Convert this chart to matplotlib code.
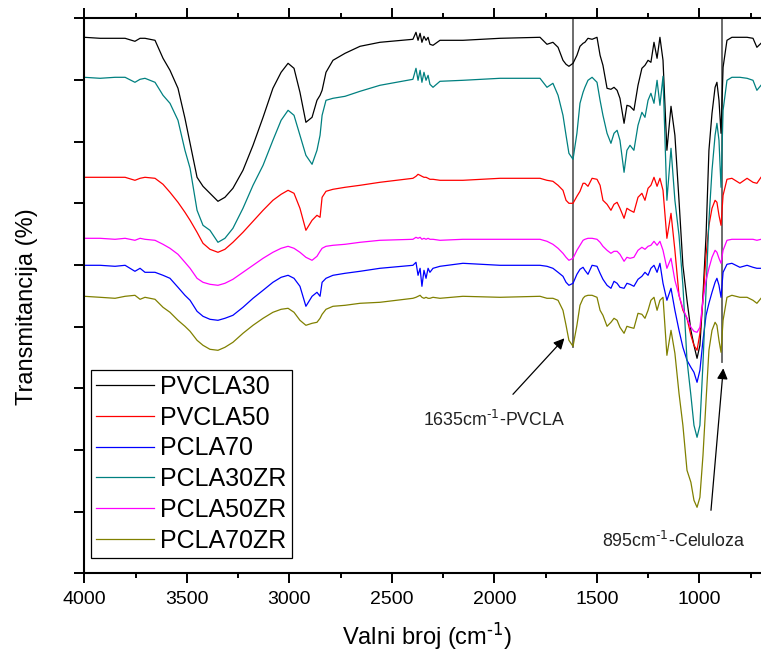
import numpy as np
import matplotlib
matplotlib.use("Agg")
import matplotlib.pyplot as plt

plt.rcParams['font.family'] = ['Liberation Sans', 'DejaVu Sans']
plt.rcParams['mathtext.default'] = 'regular'
plt.rcParams['axes.unicode_minus'] = False

# wavenumbers (cm^-1)
wavenumber = [4000, 3923, 3850, 3801, 3753, 3728, 3704, 3655, 3616, 3582, 3543, 3509, 3484, 3450,
              3421, 3387, 3348, 3314, 3275, 3226, 3177, 3128, 3080, 3040, 3006, 2977, 2948, 2919,
              2889, 2865, 2850, 2840, 2821, 2787, 2728, 2655, 2558, 2397, 2382, 2372, 2362, 2353,
              2343, 2333, 2323, 2314, 2299, 2265, 2153, 1972, 1777, 1743, 1714, 1689, 1665, 1650,
              1636, 1616, 1597, 1582, 1567, 1558, 1543, 1523, 1499, 1484, 1470, 1450, 1431, 1416,
              1401, 1387, 1367, 1353, 1338, 1319, 1299, 1280, 1265, 1250, 1236, 1221, 1206, 1192,
              1177, 1158, 1138, 1119, 1099, 1080, 1060, 1041, 1026, 1011, 997, 982, 967, 953,
              938, 923, 914, 904, 894, 884, 865, 841, 802, 767, 738, 719, 699]

PVCLA30 = [536, 535, 535, 535, 532, 535, 535, 533, 515, 503, 485, 455, 430, 396,
           387, 380, 372, 376, 385, 403, 428, 456, 485, 501, 510, 505, 481, 451,
           456, 473, 478, 483, 501, 513, 520, 527, 531, 534, 541, 533, 540, 531,
           537, 533, 536, 529, 528, 533, 533, 535, 536, 529, 531, 526, 513, 509,
           507, 510, 518, 527, 530, 531, 535, 534, 536, 518, 508, 485, 484, 486,
           483, 475, 450, 468, 467, 463, 488, 505, 508, 513, 511, 531, 515, 536,
           513, 423, 467, 438, 373, 308, 273, 243, 228, 215, 228, 278, 338, 423,
           460, 486, 491, 473, 440, 506, 533, 536, 536, 536, 535, 526, 530]

PVCLA50 = [396, 396, 396, 396, 393, 395, 396, 395, 389, 381, 371, 361, 353, 341,
           330, 324, 321, 324, 331, 341, 352, 363, 373, 379, 383, 380, 365, 343,
           353, 358, 356, 376, 382, 384, 386, 388, 391, 395, 397, 399, 398, 397,
           396, 396, 395, 394, 394, 393, 393, 395, 395, 393, 392, 388, 383, 373,
           370, 370, 377, 382, 390, 390, 387, 395, 394, 388, 373, 369, 363, 369,
           371, 365, 355, 365, 363, 361, 376, 380, 373, 385, 388, 396, 387, 395,
           383, 335, 360, 323, 278, 263, 255, 238, 228, 223, 240, 273, 318, 348,
           365, 373, 371, 358, 348, 378, 394, 395, 390, 395, 391, 390, 396]

PCLA70 = [308, 308, 307, 308, 302, 305, 301, 301, 298, 295, 286, 278, 273, 262,
          257, 254, 253, 255, 258, 266, 275, 283, 291, 296, 298, 295, 287, 267,
          277, 281, 277, 291, 295, 298, 300, 302, 305, 308, 311, 298, 305, 287,
          303, 295, 305, 301, 305, 307, 310, 308, 308, 307, 305, 301, 297, 291,
          288, 290, 299, 304, 306, 303, 299, 308, 307, 300, 294, 288, 285, 292,
          290, 286, 285, 290, 289, 287, 294, 297, 301, 298, 305, 308, 301, 310,
          290, 273, 285, 263, 243, 226, 213, 206, 201, 191, 203, 233, 258, 270,
          281, 291, 295, 288, 276, 301, 309, 310, 306, 308, 306, 305, 305]

PCLA30ZR = [496, 495, 496, 496, 491, 494, 495, 491, 478, 470, 453, 423, 405, 363,
            348, 343, 331, 335, 345, 365, 388, 408, 433, 453, 463, 458, 438, 418,
            409, 423, 438, 458, 473, 475, 477, 482, 488, 494, 505, 493, 503, 491,
            501, 493, 498, 489, 486, 492, 493, 495, 495, 486, 490, 478, 458, 438,
            420, 414, 440, 470, 481, 486, 493, 496, 491, 473, 458, 440, 430, 440,
            443, 433, 401, 423, 428, 423, 448, 461, 456, 473, 480, 470, 493, 468,
            497, 373, 425, 373, 338, 288, 213, 178, 148, 136, 148, 210, 283, 353,
            403, 438, 450, 433, 386, 463, 493, 496, 496, 495, 493, 483, 488]

PCLA50ZR = [335, 335, 334, 335, 333, 335, 334, 333, 329, 325, 319, 311, 305, 295,
            291, 289, 288, 290, 294, 301, 308, 315, 321, 325, 327, 325, 321, 316,
            313, 317, 322, 325, 327, 328, 329, 331, 333, 334, 336, 335, 336, 334,
            335, 334, 335, 334, 334, 333, 334, 334, 334, 332, 329, 325, 320, 316,
            313, 315, 323, 328, 333, 334, 335, 335, 334, 331, 327, 323, 320, 322,
            322, 319, 312, 316, 315, 316, 323, 326, 324, 327, 328, 332, 328, 332,
            323, 305, 315, 293, 278, 265, 255, 246, 242, 241, 246, 273, 293, 305,
            316, 323, 321, 315, 310, 323, 333, 334, 334, 334, 334, 333, 334]

PCLA70ZR = [277, 276, 275, 277, 278, 274, 276, 274, 266, 261, 253, 247, 242, 233,
            228, 224, 223, 226, 231, 240, 248, 255, 261, 264, 265, 261, 253, 248,
            250, 251, 255, 259, 264, 267, 268, 270, 271, 275, 276, 277, 278, 276,
            275, 276, 275, 275, 276, 275, 277, 276, 277, 275, 275, 273, 263, 248,
            233, 227, 248, 268, 275, 277, 278, 278, 276, 263, 258, 247, 251, 255,
            253, 246, 240, 247, 246, 245, 260, 259, 255, 263, 273, 276, 263, 273,
            276, 218, 243, 220, 180, 148, 103, 91, 73, 66, 76, 118, 173, 223,
            243, 251, 248, 233, 221, 253, 276, 278, 276, 276, 273, 270, 275]

series_names = ['PVCLA30', 'PVCLA50', 'PCLA70', 'PCLA30ZR', 'PCLA50ZR', 'PCLA70ZR']
series_values = [PVCLA30, PVCLA50, PCLA70, PCLA30ZR, PCLA50ZR, PCLA70ZR]
series_colors = ['#000000', '#FF0000', '#0000FF', '#008080', '#FF00FF', '#808000']

marker_lines = [1618, 891]          # drawn reference lines (cm^-1)
marker_line_bottoms = [226, 211]
annotations = [("1635cm$^{\\text{-1}}$-PVCLA", (2348, 153), (1909, 179), (1658, 235)),
               ("895cm$^{\\text{-1}}$-Celuloza", (1475, 32), (943, 63), (883, 205))]

W, H = 761, 659
fig = plt.figure(figsize=(W / 100, H / 100), dpi=100)
ax = fig.add_axes([84.3 / W, 1 - 573.3 / H, (W - 84.3) / W, 555 / H])

for name, vals, col in zip(series_names, series_values, series_colors):
    ax.plot(wavenumber, vals, color=col, lw=0.9, label=name)

for xv, yb in zip(marker_lines, marker_line_bottoms):
    ax.plot([xv, xv], [yb, 555], color='#606060', lw=1.3, zorder=1)

for txt, tpos, a_from, a_to in annotations:
    ax.text(tpos[0], tpos[1], txt, fontsize=12.8, ha='left', va='center', color='#222222')
    ax.annotate('', xy=a_to, xytext=a_from,
                arrowprops=dict(arrowstyle='-|>', color='black', lw=0.9, mutation_scale=16,
                                shrinkA=0, shrinkB=0))

ax.set_xlim(4000, 699)
ax.set_ylim(0, 555)
ax.set_xticks([4000, 3500, 3000, 2500, 2000, 1500, 1000])
ax.set_xticks(np.arange(3750, 699, -500), minor=True)
ax.set_yticks(np.linspace(0, 555, 10))
ax.spines['right'].set_visible(False)
for s in ['top', 'bottom', 'left']:
    ax.spines[s].set_linewidth(1.5)
ax.tick_params(axis='x', which='both', direction='out', top=True, bottom=True,
               labeltop=False, width=1.4, labelsize=14, pad=6)
ax.tick_params(axis='x', which='major', length=7)
ax.tick_params(axis='x', which='minor', length=3.5)
ax.tick_params(axis='y', which='both', direction='out', left=True, right=False,
               labelleft=False, width=1.4, length=7)

ax.set_xlabel('Valni broj (cm$^{\\text{-1}}$)', fontsize=17)
ax.set_ylabel('Transmitancija (%)', fontsize=17)
ax.xaxis.set_label_coords((427 - 84.3) / (W - 84.3), -0.085)
ax.yaxis.set_label_coords(-0.068, 0.48)

leg = ax.legend(loc='lower left', bbox_to_anchor=((91 - 84.3) / (W - 84.3), (573.3 - 557.7) / 555),
                borderaxespad=0, fontsize=18, frameon=True, fancybox=False,
                handlelength=2.3, handletextpad=0.28, labelspacing=0.27,
                borderpad=0.2, edgecolor='black', framealpha=1)
leg.get_frame().set_linewidth(0.9)

fig.savefig('out.png', dpi=100)
